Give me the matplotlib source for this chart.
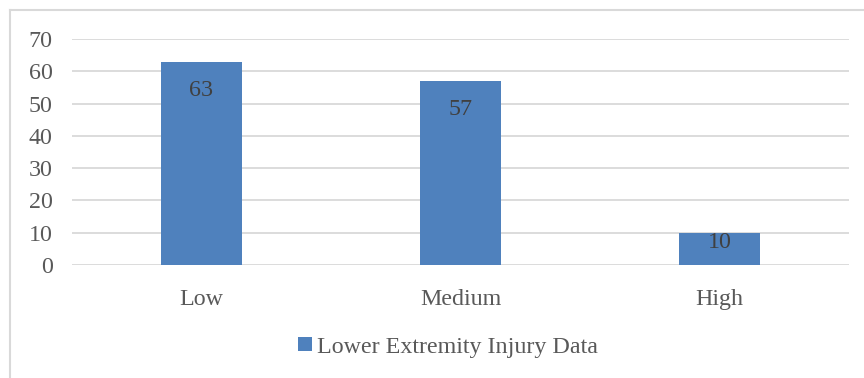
import matplotlib
matplotlib.use("Agg")
import matplotlib.pyplot as plt
from matplotlib.patches import Patch
from matplotlib.lines import Line2D

categories = ["Low", "Medium", "High"]
values = [63, 57, 10]
series_name = "Lower Extremity Injury Data"
y_ticks = [0, 10, 20, 30, 40, 50, 60, 70]

BAR_COLOR = "#4F81BD"
TEXT_COLOR = "#595959"
GRID_COLOR = "#D9D9D9"
DPI = 100
FS = 17.3

plt.rcParams["font.family"] = ["Liberation Serif", "DejaVu Serif"]

fig = plt.figure(figsize=(8.64, 3.78), dpi=DPI)
W, H = 864, 378
ax = fig.add_axes([72 / W, 1 - 265 / H, (849 - 72) / W, (265 - 39) / H])

x = list(range(len(categories)))
bars = ax.bar(x, values, width=0.315, color=BAR_COLOR, zorder=3)

ax.set_xlim(-0.5, len(categories) - 0.5)
ax.set_ylim(0, 70)
ax.set_yticks(y_ticks)
ax.set_xticks(x)
ax.set_xticklabels(categories)
ax.tick_params(axis="both", length=0, labelsize=FS, labelcolor=TEXT_COLOR)
ax.tick_params(axis="y", pad=14)
ax.tick_params(axis="x", pad=17)
ax.yaxis.grid(True, color=GRID_COLOR, linewidth=1.3, zorder=0)
ax.set_axisbelow(True)
for s in ax.spines.values():
    s.set_visible(False)

# value labels placed inside the end of each bar
px_per_unit = (265 - 39) / 70
for rect, v in zip(bars, values):
    bar_px = v * px_per_unit
    offset_px = 18 if bar_px > 60 else -1
    ax.annotate(str(v), xy=(rect.get_x() + rect.get_width() / 2, v),
                xytext=(0, -offset_px * 72 / DPI), textcoords="offset points",
                ha="center", va="top", fontsize=FS, color="#404040", zorder=4)

handle = Patch(facecolor=BAR_COLOR, edgecolor="none")
fig.legend([handle], [series_name], loc="center", bbox_to_anchor=(448 / W, 1 - 347 / H),
           frameon=False, fontsize=FS, labelcolor=TEXT_COLOR, handlelength=0.55,
           handleheight=0.55, handletextpad=0.2)

# chart frame (top and left edges)
fig.add_artist(Line2D([10 / W, 1.0], [1 - 10 / H, 1 - 10 / H], transform=fig.transFigure,
                      color=GRID_COLOR, linewidth=1.5))
fig.add_artist(Line2D([10 / W, 10 / W], [0, 1 - 10 / H], transform=fig.transFigure,
                      color=GRID_COLOR, linewidth=1.5))

fig.savefig("out.png", dpi=DPI, facecolor="white")
